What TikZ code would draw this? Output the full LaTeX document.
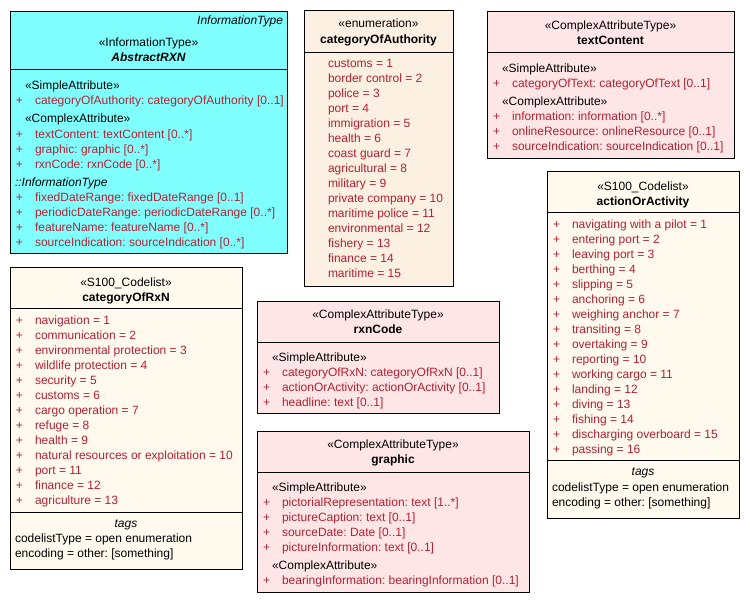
\documentclass[tikz,border=0pt]{standalone}
\usepackage{fontspec}
\setmainfont{Liberation Sans}
\usetikzlibrary{fit}
\definecolor{cyanfill}{RGB}{128,255,255}
\definecolor{enumfill}{RGB}{251,240,225}
\definecolor{codefill}{RGB}{255,249,238}
\definecolor{cplxfill}{RGB}{255,230,230}
\definecolor{itemred}{RGB}{178,34,52}
\frenchspacing
\begin{document}
\begin{tikzpicture}[x=0.75pt,y=-0.75pt,
  every node/.style={inner sep=0pt, outer sep=0pt, font=\fontsize{9pt}{11pt}\selectfont},
  txt/.style={anchor=base west},
  ctxt/.style={anchor=base},
  ttl/.style={anchor=base, font=\fontsize{9pt}{11pt}\selectfont\bfseries},
  item/.style={anchor=base west, text=itemred},
  plus/.style={anchor=base west, text=itemred},
  umlbox/.style={draw=black, line width=0.75pt},
  sepline/.style={draw=black, line width=0.75pt}]
\useasboundingbox (0,0) rectangle (750,603);

% ---------- AbstractRXN ----------
\node[umlbox, fill=cyanfill, fit={(10,11) (287,253)}] (A) {};
\draw[sepline] (A.west |- 0,69) -- (A.east |- 0,69);
\node[anchor=base east, font=\fontsize{9pt}{11pt}\selectfont\itshape] (A-kind) at (283,25) {InformationType};
\node[ctxt] (A-st) at (148.5,46) {«InformationType»};
\node[ttl, font=\fontsize{9pt}{11pt}\selectfont\bfseries\itshape] (A-name) at (148.5,61) {AbstractRXN};
\node[txt] (A-s1) at (25,89) {«SimpleAttribute»};
\node[plus] (A-p1) at (16,104) {+};
\node[item] (A-t1) at (35,104) {categoryOfAuthority: categoryOfAuthority [0..1]};
\node[txt] (A-s2) at (25,122) {«ComplexAttribute»};
\foreach \t [count=\i] in {{textContent: textContent [0..*]},{graphic: graphic [0..*]},{rxnCode: rxnCode [0..*]}} {
  \node[plus] (A-cp\i) at (16,{138+15*(\i-1)}) {+};
  \node[item] (A-ct\i) at (35,{138+15*(\i-1)}) {\t};
}
\node[txt, font=\fontsize{9pt}{11pt}\selectfont\itshape] (A-s3) at (15,186) {::InformationType};
\foreach \t [count=\i] in {{fixedDateRange: fixedDateRange [0..1]},{periodicDateRange: periodicDateRange [0..*]},{featureName: featureName [0..*]},{sourceIndication: sourceIndication [0..*]}} {
  \node[plus] (A-ip\i) at (16,{201+15*(\i-1)}) {+};
  \node[item] (A-it\i) at (35,{201+15*(\i-1)}) {\t};
}

% ---------- categoryOfAuthority ----------
\node[umlbox, fill=enumfill, fit={(304,10) (453,286)}] (B) {};
\draw[sepline] (B.west |- 0,52) -- (B.east |- 0,52);
\node[ctxt] (B-st) at (378.5,27) {«enumeration»};
\node[ttl] (B-name) at (378.5,43) {categoryOfAuthority};
\foreach \t [count=\i] in {{customs = 1},{border control = 2},{police = 3},{port = 4},{immigration = 5},{health = 6},{coast guard = 7},{agricultural = 8},{military = 9},{private company = 10},{maritime police = 11},{environmental = 12},{fishery = 13},{finance = 14},{maritime = 15}} {
  \node[item] (B-t\i) at (328,{67+15*(\i-1)}) {\t};
}

% ---------- textContent ----------
\node[umlbox, fill=cplxfill, fit={(487,11) (734,158)}] (C) {};
\draw[sepline] (C.west |- 0,52) -- (C.east |- 0,52);
\node[ctxt] (C-st) at (610.5,29) {«ComplexAttributeType»};
\node[ttl] (C-name) at (610.5,44) {textContent};
\node[txt] (C-s1) at (502,72) {«SimpleAttribute»};
\node[plus] (C-p1) at (493,87) {+};
\node[item] (C-t1) at (512,87) {categoryOfText: categoryOfText [0..1]};
\node[txt] (C-s2) at (502,105) {«ComplexAttribute»};
\foreach \t [count=\i] in {{information: information [0..*]},{onlineResource: onlineResource [0..1]},{sourceIndication: sourceIndication [0..1]}} {
  \node[plus] (C-cp\i) at (493,{120+15*(\i-1)}) {+};
  \node[item] (C-ct\i) at (512,{120+15*(\i-1)}) {\t};
}

% ---------- actionOrActivity ----------
\node[umlbox, fill=codefill, fit={(547,171) (739,518)}] (D) {};
\draw[sepline] (D.west |- 0,212) -- (D.east |- 0,212);
\draw[sepline] (D.west |- 0,460) -- (D.east |- 0,460);
\node[ctxt] (D-st) at (643,190) {«S100\_Codelist»};
\node[ttl] (D-name) at (643,205) {actionOrActivity};
\foreach \t [count=\i] in {{navigating with a pilot = 1},{entering port = 2},{leaving port = 3},{berthing = 4},{slipping = 5},{anchoring = 6},{weighing anchor = 7},{transiting = 8},{overtaking = 9},{reporting = 10},{working cargo = 11},{landing = 12},{diving = 13},{fishing = 14},{discharging overboard = 15},{passing = 16}} {
  \node[plus] (D-p\i) at (553,{228+15*(\i-1)}) {+};
  \node[item] (D-t\i) at (572,{228+15*(\i-1)}) {\t};
}
\node[ctxt, font=\fontsize{9pt}{11pt}\selectfont\itshape] (D-tags) at (643,475) {tags};
\node[txt] (D-g1) at (552,491) {codelistType = open enumeration};
\node[txt] (D-g2) at (552,506) {encoding = other: [something]};

% ---------- categoryOfRxN ----------
\node[umlbox, fill=codefill, fit={(10,267) (242,569)}] (E) {};
\draw[sepline] (E.west |- 0,308) -- (E.east |- 0,308);
\draw[sepline] (E.west |- 0,512) -- (E.east |- 0,512);
\node[ctxt] (E-st) at (126,286) {«S100\_Codelist»};
\node[ttl] (E-name) at (126,301) {categoryOfRxN};
\foreach \t [count=\i] in {{navigation = 1},{communication = 2},{environmental protection = 3},{wildlife protection = 4},{security = 5},{customs = 6},{cargo operation = 7},{refuge = 8},{health = 9},{natural resources or exploitation = 10},{port = 11},{finance = 12},{agriculture = 13}} {
  \node[plus] (E-p\i) at (16,{324+15*(\i-1)}) {+};
  \node[item] (E-t\i) at (35,{324+15*(\i-1)}) {\t};
}
\node[ctxt, font=\fontsize{9pt}{11pt}\selectfont\itshape] (E-tags) at (126,527) {tags};
\node[txt] (E-g1) at (15,542) {codelistType = open enumeration};
\node[txt] (E-g2) at (15,557) {encoding = other: [something]};

% ---------- rxnCode ----------
\node[umlbox, fill=cplxfill, fit={(257,301) (499,413)}] (F) {};
\draw[sepline] (F.west |- 0,342) -- (F.east |- 0,342);
\node[ctxt] (F-st) at (378,318) {«ComplexAttributeType»};
\node[ttl] (F-name) at (378,333) {rxnCode};
\node[txt] (F-s1) at (272,361) {«SimpleAttribute»};
\foreach \t [count=\i] in {{categoryOfRxN: categoryOfRxN [0..1]},{actionOrActivity: actionOrActivity [0..1]},{headline: text [0..1]}} {
  \node[plus] (F-p\i) at (263,{376+15*(\i-1)}) {+};
  \node[item] (F-t\i) at (282,{376+15*(\i-1)}) {\t};
}

% ---------- graphic ----------
\node[umlbox, fill=cplxfill, fit={(257,431) (529,592)}] (G) {};
\draw[sepline] (G.west |- 0,472) -- (G.east |- 0,472);
\node[ctxt] (G-st) at (393,448) {«ComplexAttributeType»};
\node[ttl] (G-name) at (393,463) {graphic};
\node[txt] (G-s1) at (272,491) {«SimpleAttribute»};
\foreach \t [count=\i] in {{pictorialRepresentation: text [1..*]},{pictureCaption: text [0..1]},{sourceDate: Date [0..1]},{pictureInformation: text [0..1]}} {
  \node[plus] (G-p\i) at (263,{506+15*(\i-1)}) {+};
  \node[item] (G-t\i) at (282,{506+15*(\i-1)}) {\t};
}
\node[txt] (G-s2) at (272,569) {«ComplexAttribute»};
\node[plus] (G-cp1) at (263,584) {+};
\node[item] (G-ct1) at (282,584) {bearingInformation: bearingInformation [0..1]};
\end{tikzpicture}
\end{document}
